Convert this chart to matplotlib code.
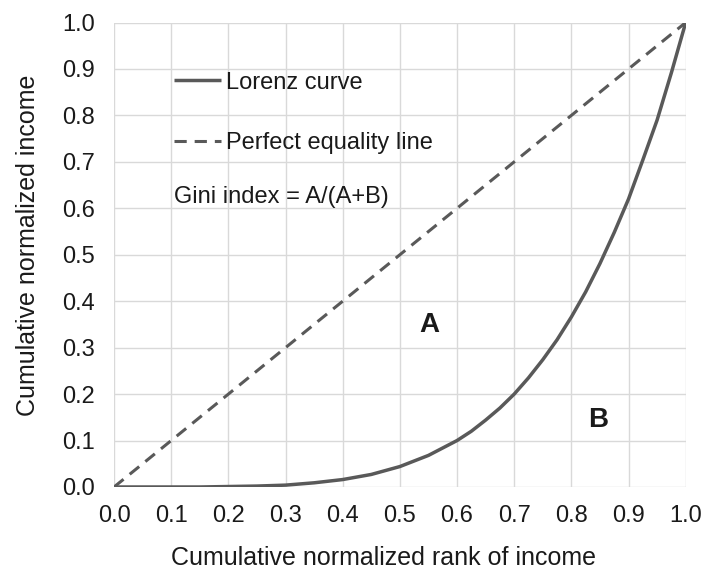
import matplotlib.pyplot as plt
import numpy as np

plt.rcParams['font.family'] = ['Liberation Sans', 'DejaVu Sans']

# cumulative normalized rank of income vs. cumulative normalized income
rank = [0.0, 0.05, 0.1, 0.15, 0.2, 0.25, 0.3, 0.35, 0.4, 0.45, 0.5,
        0.55, 0.6, 0.625, 0.65, 0.675, 0.7, 0.725, 0.75, 0.775, 0.8,
        0.825, 0.85, 0.875, 0.9, 0.925, 0.95, 0.975, 1.0]
income = [0.0, 0.0, 0.0, 0.0, 0.001, 0.002, 0.004, 0.009, 0.016, 0.027, 0.044,
          0.068, 0.1, 0.12, 0.144, 0.17, 0.2, 0.235, 0.274, 0.317, 0.366,
          0.42, 0.481, 0.548, 0.62, 0.704, 0.79, 0.892, 1.0]
equality = [0.0, 1.0]
ticks = [0.0, 0.1, 0.2, 0.3, 0.4, 0.5, 0.6, 0.7, 0.8, 0.9, 1.0]

col = '#595959'
txt = '#1a1a1a'

fig = plt.figure(figsize=(7.04, 5.77), dpi=100)
ax = fig.add_axes([0.162, 0.156, 0.812, 0.805])

ax.plot(rank, income, color=col, lw=2.5, label='Lorenz curve', solid_capstyle='butt')
ax.plot(equality, equality, color=col, lw=2.2, ls=(0, (4, 2.6)), label='Perfect equality line')

ax.set_xlim(0, 1)
ax.set_ylim(0, 1)
ax.set_xticks(ticks)
ax.set_yticks(ticks)
ax.set_xticklabels([f'{t:.1f}' for t in ticks])
ax.set_yticklabels([f'{t:.1f}' for t in ticks])
ax.tick_params(length=0, labelsize=17, colors=txt)
ax.tick_params(axis='y', pad=14)
ax.tick_params(axis='x', pad=13)
ax.grid(True, color='#d9d9d9', lw=1)
ax.set_axisbelow(True)
for s in ax.spines.values():
    s.set_visible(False)

ax.set_xlabel('Cumulative normalized rank of income', fontsize=18, labelpad=14, color=txt)
ax.set_ylabel('Cumulative normalized income', fontsize=18, labelpad=16, color=txt)
ax.xaxis.label.set_x(0.472)
ax.yaxis.label.set_y(0.521)

leg = ax.legend(loc='upper left', bbox_to_anchor=(0.068, 0.94), frameon=False,
                fontsize=17, handlelength=2.0, handletextpad=0.2, labelspacing=1.63)
for t in leg.get_texts():
    t.set_color(txt)

ax.text(0.105, 0.625, 'Gini index = A/(A+B)', fontsize=17, color=txt,
        transform=ax.transAxes, va='center')
ax.text(0.552, 0.349, 'A', fontsize=20, fontweight='bold', ha='center', va='center', color=txt)
ax.text(0.846, 0.144, 'B', fontsize=20, fontweight='bold', ha='center', va='center', color=txt)

fig.savefig('out.png', dpi=100)
